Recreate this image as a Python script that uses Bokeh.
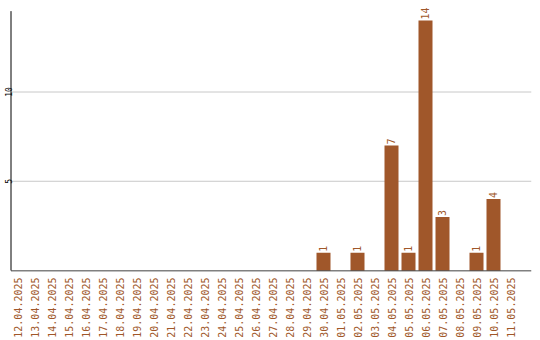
from math import pi
from bokeh.plotting import figure
from bokeh.models import Range1d, FixedTicker, ColumnDataSource, LabelSet
from bokeh.core.properties import value
from bokeh.embed import file_html
from bokeh.resources import INLINE

dates = ["12.04.2025", "13.04.2025", "14.04.2025", "15.04.2025", "16.04.2025",
         "17.04.2025", "18.04.2025", "19.04.2025", "20.04.2025", "21.04.2025",
         "22.04.2025", "23.04.2025", "24.04.2025", "25.04.2025", "26.04.2025",
         "27.04.2025", "28.04.2025", "29.04.2025", "30.04.2025", "01.05.2025",
         "02.05.2025", "03.05.2025", "04.05.2025", "05.05.2025", "06.05.2025",
         "07.05.2025", "08.05.2025", "09.05.2025", "10.05.2025", "11.05.2025"]
counts = [0, 0, 0, 0, 0, 0, 0, 0, 0, 0,
          0, 0, 0, 0, 0, 0, 0, 0, 1, 0,
          1, 0, 7, 1, 14, 3, 0, 1, 4, 0]
y_ticks = [5, 10]
y_tick_labels = ["5", "10"]
y_axis_top = 14.53

COLOR = "#A0572A"
FONT = "DejaVu Sans Mono"

# layout constants (pixels per data unit)
SX = 17.0
SY = 17.85
X0, X1 = -1.0, -1.0 + 531 / SX
Y0, Y1 = -1 / SY, -1 / SY + 266 / SY
AXIS_X = X0 + 10.5 / SX
AXIS_Y = -0.5 / SY
YLAB_X = X0 + 7.5 / SX

idx = list(range(len(dates)))
src = ColumnDataSource(dict(x=idx, y=counts))
nz = [i for i, c in enumerate(counts) if c > 0]
lab_src = ColumnDataSource(dict(x=nz, y=[counts[i] for i in nz],
                                t=[str(counts[i]) for i in nz]))

p = figure(width=540, height=340, output_backend="svg", toolbar_location=None,
           x_range=Range1d(X0, X1), y_range=Range1d(Y0, Y1),
           min_border_left=0, min_border_right=9, min_border_top=5,
           min_border_bottom=69)
p.outline_line_color = None
p.background_fill_color = "white"
p.grid.visible = False
p.yaxis.visible = False

# horizontal grid lines
p.segment(x0=[AXIS_X + 0.5 / SX] * len(y_ticks), y0=y_ticks,
          x1=[X1] * len(y_ticks), y1=y_ticks, line_color="#c8c8c8", line_width=1)

p.vbar(x="x", top="y", width=14 / SX, source=src, fill_color=COLOR, line_color=None)

# axis lines
p.segment(x0=[AXIS_X], y0=[0], x1=[AXIS_X], y1=[y_axis_top],
          line_color="black", line_width=1)
p.segment(x0=[AXIS_X], y0=[AXIS_Y], x1=[X1], y1=[AXIS_Y],
          line_color="black", line_width=1)

# y tick labels
p.text(x=[YLAB_X] * len(y_ticks), y=y_ticks, text=y_tick_labels, angle=pi / 2,
       text_align="center", text_baseline="alphabetic", text_color="black",
       text_font=value(FONT), text_font_size="8px")

labels = LabelSet(x="x", y="y", text="t", source=lab_src, angle=pi / 2,
                  text_align="left", text_baseline="middle", y_offset=1,
                  text_color=COLOR, text_font=value(FONT),
                  text_font_size="10px", level="overlay")
p.add_layout(labels)

xa = p.xaxis[0]
xa.ticker = FixedTicker(ticks=idx)
xa.major_label_overrides = {i: d for i, d in enumerate(dates)}
xa.major_label_orientation = pi / 2
xa.major_label_text_color = COLOR
xa.major_label_text_font = FONT
xa.major_label_text_font_size = "10px"
xa.major_label_standoff = 6
xa.major_tick_line_color = None
xa.minor_tick_line_color = None
xa.major_tick_out = 0
xa.major_tick_in = 0
xa.axis_line_color = None

open("out.html", "w").write(file_html(p, INLINE))
